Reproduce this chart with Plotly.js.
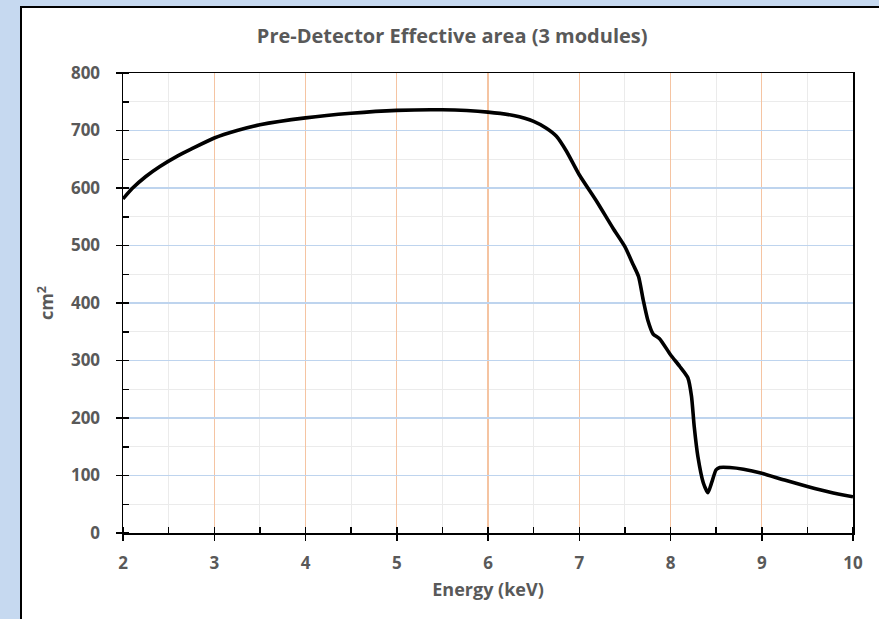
<!DOCTYPE html>
<html>
<head>
<meta charset="utf-8">
<script src="https://cdn.plot.ly/plotly-3.0.1.min.js"></script>
<style>
  html, body { margin: 0; padding: 0; width: 879px; height: 619px; overflow: hidden; background: #c6d9f0; }
  #chart {
    position: absolute; left: 20px; top: 6px;
    width: 857px; height: 611px;
    border-left: 2px solid #000; border-top: 2px solid #000;
    background: #fff;
  }
</style>
</head>
<body>
<div id="chart"></div>
<script>
// Photon energy (keV) and effective area (cm^2) of the three modules
const energy = [2.0, 2.1, 2.25, 2.4, 2.6, 2.75, 3.0, 3.25, 3.5, 4.0, 4.5, 5.0, 5.5, 6.0, 6.28, 6.5, 6.64, 6.75, 6.86,
                7.0, 7.19, 7.37, 7.5, 7.59, 7.65, 7.70, 7.75, 7.81, 7.88, 8.0, 8.1, 8.19, 8.23, 8.26, 8.30,
                8.36, 8.41, 8.45, 8.50, 8.54, 8.65, 8.8, 9.0, 9.25, 9.5, 9.75, 10.0];
const area = [581, 599, 620, 637, 656, 668, 687, 700, 710, 722, 730, 735, 736, 732, 726, 716, 704, 690, 664,
              623, 577, 530, 498, 467, 446, 406, 371, 346, 338, 310, 290, 270, 238, 185, 133,
              87, 70, 87, 110, 114, 114, 111, 104, 92, 81, 71, 63];

const xTicks = [2, 3, 4, 5, 6, 7, 8, 9, 10];
const yTicks = [0, 100, 200, 300, 400, 500, 600, 700, 800];

const tickFont = { family: 'Open Sans, sans-serif', size: 17, color: '#595959', weight: 'bold' };
const axisTitleFont = { family: 'Open Sans, sans-serif', size: 18, color: '#595959', weight: 'bold' };

const curve = {
  x: energy, y: area, type: 'scatter', mode: 'lines',
  line: { color: '#000', width: 3.6, shape: 'spline', smoothing: 0.6 },
  hoverinfo: 'x+y', showlegend: false
};
// second copy on the overlay axes, so their inner tick marks are drawn
const tickCarrier = {
  x: energy, y: area, xaxis: 'x2', yaxis: 'y2', type: 'scatter', mode: 'lines',
  line: { width: 0 }, hoverinfo: 'skip', showlegend: false
};

const layout = {
  width: 857, height: 611,
  margin: { l: 101, r: 26, t: 65, b: 86 },
  paper_bgcolor: '#fff', plot_bgcolor: '#fff',
  title: {
    text: 'Pre-Detector Effective area (3 modules)',
    font: { family: 'Open Sans, sans-serif', size: 20, color: '#595959', weight: 'bold' },
    x: 0.502, xref: 'container', xanchor: 'center',
    y: 0.954, yref: 'container', yanchor: 'middle'
  },
  xaxis: {
    range: [2, 10], tickvals: xTicks, ticktext: xTicks.map(String),
    ticks: 'outside', ticklen: 6, tickwidth: 1.5, tickcolor: '#000',
    showline: true, linecolor: '#000', linewidth: 1.5, mirror: true,
    showgrid: true, gridcolor: '#f5c4a2', gridwidth: 1.4, zeroline: false,
    tickfont: tickFont, ticklabelstandoff: 8,
    minor: { dtick: 0.5, ticks: 'inside', ticklen: 6, tickwidth: 1.5, tickcolor: '#000',
             showgrid: true, gridcolor: '#ebebeb', gridwidth: 1 },
    title: { text: 'Energy (keV)', font: axisTitleFont, standoff: 10 },
    fixedrange: true
  },
  yaxis: {
    range: [0, 800], tickvals: yTicks, ticktext: yTicks.map(String),
    ticks: 'outside', ticklen: 6, tickwidth: 1.5, tickcolor: '#000',
    showline: true, linecolor: '#000', linewidth: 1.5, mirror: true,
    showgrid: true, gridcolor: '#bed4ee', gridwidth: 1.4, zeroline: false,
    tickfont: tickFont, ticklabelstandoff: 12,
    minor: { dtick: 50, ticks: 'inside', ticklen: 6, tickwidth: 1.5, tickcolor: '#000',
             showgrid: true, gridcolor: '#ebebeb', gridwidth: 1 },
    title: { text: 'cm<sup>2</sup>', font: axisTitleFont, standoff: 12 },
    fixedrange: true
  },
  xaxis2: {
    overlaying: 'x', matches: 'x', side: 'bottom', anchor: 'y2',
    tickvals: xTicks, ticks: 'inside', ticklen: 6, tickwidth: 1.5, tickcolor: '#000',
    showticklabels: false, showgrid: false, showline: false, zeroline: false, fixedrange: true
  },
  yaxis2: {
    overlaying: 'y', matches: 'y', side: 'left', anchor: 'x2',
    tickvals: yTicks, ticks: 'inside', ticklen: 6, tickwidth: 1.5, tickcolor: '#000',
    showticklabels: false, showgrid: false, showline: false, zeroline: false, fixedrange: true
  }
};

Plotly.newPlot('chart', [curve, tickCarrier], layout, { displayModeBar: false, staticPlot: true });
</script>
</body>
</html>
